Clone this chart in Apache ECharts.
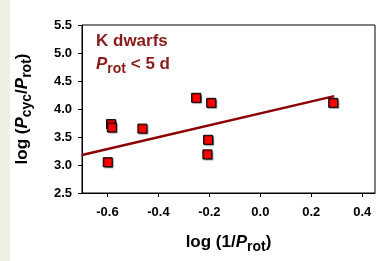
<!DOCTYPE html>
<html>
<head>
<meta charset="utf-8">
<script src="https://cdn.jsdelivr.net/npm/echarts@6/dist/echarts.min.js"></script>
<style>
  html, body { margin: 0; padding: 0; background: #fff; }
  #stripe { position: absolute; left: 0; top: 0; width: 10px; height: 261px; background: #eef1e1; }
  #chart { position: absolute; left: 0; top: 0; width: 381px; height: 261px; }
</style>
</head>
<body>
<div id="stripe"></div>
<div id="chart"></div>
<script>
// 数据
var xVals = [-0.586, -0.583, -0.599, -0.463, -0.252, -0.193, -0.205, -0.208, 0.286];
var yVals = [3.73, 3.67, 3.05, 3.65, 4.20, 4.11, 3.45, 3.19, 4.11];
var fitX = [-0.70, 0.29];
var fitY = [3.18, 4.23];
var xTicks = [-0.6, -0.4, -0.2, 0.0, 0.2, 0.4];

var points = xVals.map(function (x, i) { return [x, yVals[i]]; });
var fitLine = fitX.map(function (x, i) { return [x, fitY[i]]; });

var myChart = echarts.init(document.getElementById('chart'), null, {renderer: 'canvas'});
var font = 'Arial, "Liberation Sans", sans-serif';

var titleRich = {
    n: {fontSize: 17, fontWeight: 'bold', fontFamily: font, color: '#000'},
    i: {fontSize: 17, fontWeight: 'bold', fontStyle: 'italic', fontFamily: font, color: '#000'},
    s: {fontSize: 14, fontWeight: 'bold', fontFamily: font, color: '#000', padding: [9, 0, 0, 0]}
};

myChart.setOption({
    animation: false,
    grid: {
        left: 82, top: 25, right: 6, bottom: 68,
        show: true, borderColor: '#000', borderWidth: 1, backgroundColor: 'transparent'
    },
    xAxis: {
        type: 'value',
        min: -0.7,
        max: 0.45,
        splitLine: {show: false},
        axisLine: {onZero: false, lineStyle: {color: '#000', width: 1}},
        axisTick: {show: true, length: 4, customValues: xTicks, lineStyle: {color: '#000'}},
        axisLabel: {
            customValues: xTicks,
            formatter: function (v) { return v.toFixed(1); },
            color: '#000', fontWeight: 'bold', fontSize: 13, fontFamily: font, margin: 13
        },
        name: '{n|log (1/}{i|P}{s|rot}{n|)}',
        nameLocation: 'middle',
        nameGap: 38,
        nameTextStyle: {rich: titleRich}
    },
    yAxis: {
        type: 'value',
        min: 2.5,
        max: 5.5,
        interval: 0.5,
        splitLine: {show: false},
        axisLine: {onZero: false, lineStyle: {color: '#000', width: 1}},
        axisTick: {show: true, length: 4, lineStyle: {color: '#000'}},
        axisLabel: {
            formatter: function (v) { return v.toFixed(1); },
            color: '#000', fontWeight: 'bold', fontSize: 13, fontFamily: font, margin: 10
        },
        name: '{n|log (}{i|P}{s|cyc}{n|/}{i|P}{s|rot}{n|)}',
        nameLocation: 'middle',
        nameGap: 48,
        nameTextStyle: {rich: titleRich}
    },
    graphic: [{
        type: 'text',
        left: 96,
        top: 33,
        style: {
            text: 'K dwarfs',
            fill: '#8b1a1a',
            font: 'bold 17px ' + font
        }
    }, {
        type: 'text',
        left: 96,
        top: 56,
        style: {
            text: '{i|P}{s|rot}{n| < 5 d}',
            rich: {
                i: {fontSize: 17, fontWeight: 'bold', fontStyle: 'italic', fontFamily: font, fill: '#8b1a1a'},
                s: {fontSize: 14, fontWeight: 'bold', fontFamily: font, fill: '#8b1a1a', padding: [9, 0, 0, 0]},
                n: {fontSize: 17, fontWeight: 'bold', fontFamily: font, fill: '#8b1a1a'}
            }
        }
    }],
    series: [{
        type: 'line',
        data: fitLine,
        symbol: 'none',
        lineStyle: {color: '#8b0000', width: 2.5},
        z: 2
    }, {
        type: 'scatter',
        data: points,
        symbol: 'rect',
        symbolSize: 9,
        itemStyle: {
            color: '#ff0000',
            borderColor: '#000',
            borderWidth: 1,
            opacity: 1,
            shadowColor: 'rgba(0,0,0,0.45)',
            shadowOffsetX: 1,
            shadowOffsetY: 1,
            shadowBlur: 1
        },
        z: 3
    }]
});
</script>
</body>
</html>
